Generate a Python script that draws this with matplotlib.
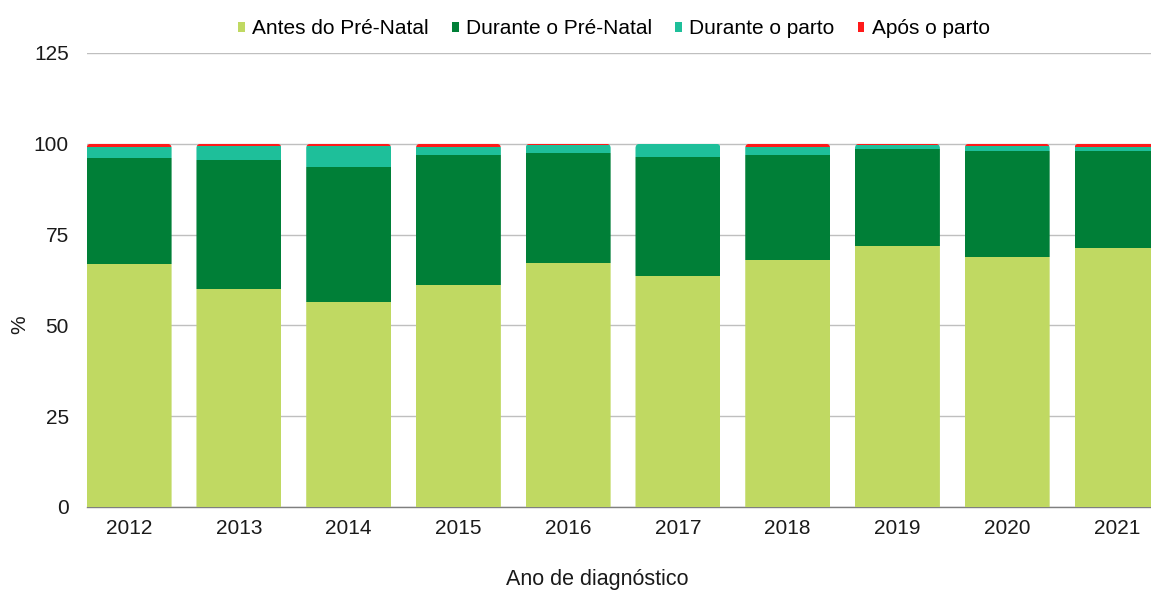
import matplotlib
matplotlib.use("Agg")
import matplotlib.pyplot as plt
from matplotlib.patches import FancyBboxPatch
import numpy as np

years = ["2012", "2013", "2014", "2015", "2016", "2017", "2018", "2019", "2020", "2021"]
antes_pre_natal = [66.9, 60.0, 56.5, 61.1, 67.2, 63.6, 68.0, 71.9, 68.8, 71.3]
durante_pre_natal = [29.2, 35.5, 37.1, 35.8, 30.3, 32.8, 28.9, 26.8, 29.2, 26.7]
durante_parto = [3.0, 3.9, 5.8, 2.3, 2.2, 3.5, 2.2, 1.1, 1.4, 1.2]
apos_parto = [0.9, 0.6, 0.6, 0.8, 0.3, 0.1, 0.9, 0.2, 0.6, 0.8]

series_names = ["Antes do Pré-Natal", "Durante o Pré-Natal", "Durante o parto", "Após o parto"]
colors = ["#C0D962", "#007F37", "#1EBF9A", "#FF1A1A"]

plt.rcParams["font.family"] = ["Liberation Sans", "DejaVu Sans"]

fig = plt.figure(figsize=(11.51, 5.90), dpi=100)
ax = fig.add_axes([86.7 / 1151, 1 - 507 / 590, 1 - 86.7 / 1151, (507 - 53) / 590])

x = np.arange(len(years))
width = 0.7735
bottom = np.zeros(len(years))
handles = []
for name, vals, col in zip(series_names, [antes_pre_natal, durante_pre_natal, durante_parto, apos_parto], colors):
    vals = np.array(vals)
    h = ax.bar(x, vals, width, bottom=bottom, color=col, label=name, zorder=3,
               edgecolor="none")
    bottom = bottom + vals
    handles.append(h)

# rounded top corners: clip each stack with a rounded box reaching below zero
clips = []
for i, top in enumerate(bottom):
    clip = FancyBboxPatch((x[i] - width / 2, -10), width, top + 10,
                          boxstyle="round,pad=0,rounding_size=0.04",
                          mutation_aspect=30, transform=ax.transData)
    clips.append(clip)
for h in handles:
    for i, rect in enumerate(h.patches):
        rect.set_clip_path(clips[i])

ax.set_xlim(-width / 2, 9.31)
ax.set_ylim(0, 125)
ax.set_yticks([0, 25, 50, 75, 100, 125])
ax.set_xticks(x)
ax.set_xticklabels(years)
ax.tick_params(axis="both", length=0, labelsize=15, colors="#1a1a1a")
ax.tick_params(axis="y", pad=13)
ax.tick_params(axis="x", pad=9)
ax.grid(axis="y", color="#BFBFBF", linewidth=1.0, zorder=0)
for side in ["top", "right", "left"]:
    ax.spines[side].set_visible(False)
ax.spines["bottom"].set_color("#7f7f7f")
ax.spines["bottom"].set_linewidth(1.0)

fig.text(20 / 1151, 1 - 325 / 590, "%", rotation=90, fontsize=15, ha="center", va="center", color="#1a1a1a")
fig.text(597 / 1151, 1 - 580 / 590, "Ano de diagnóstico", fontsize=15.5, ha="center", va="center", color="#1a1a1a")

fig.legend(handles=handles, labels=series_names, loc="center", bbox_to_anchor=(614 / 1151, 1 - 29 / 590),
           ncol=4, frameon=False, prop={"size": 15},
           handlelength=0.33, handleheight=0.33, handletextpad=0.35, columnspacing=1.1)

fig.savefig("out.png", dpi=100)
